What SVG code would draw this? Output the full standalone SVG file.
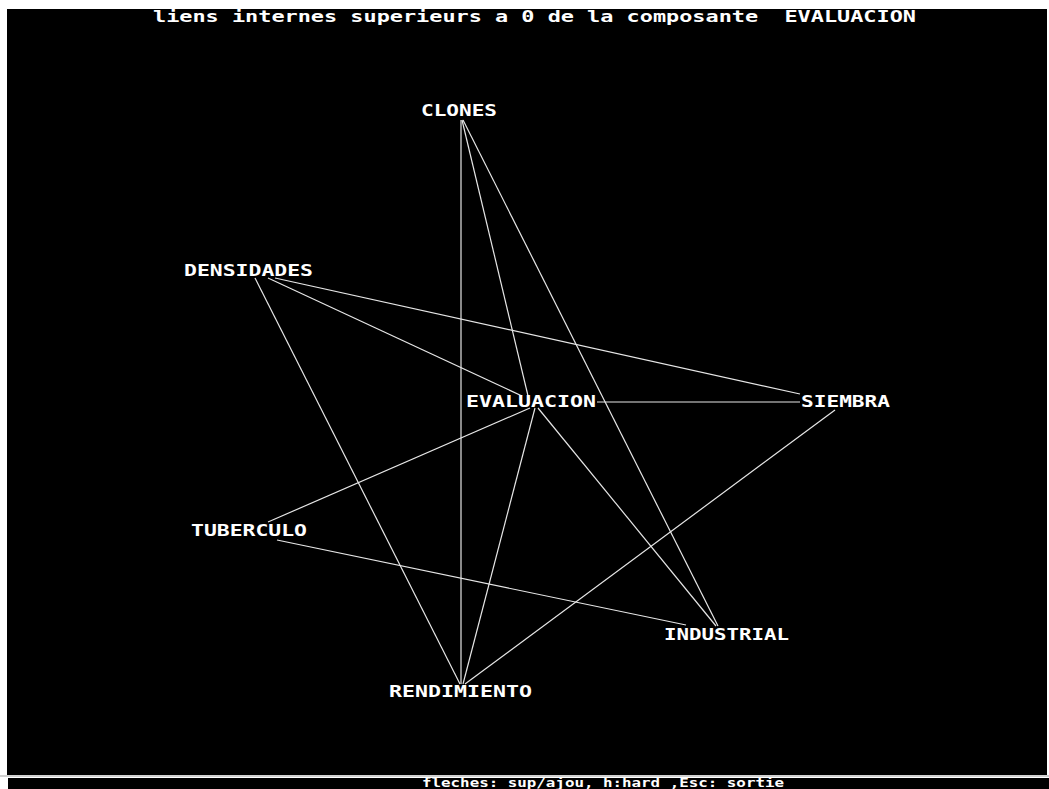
<svg xmlns="http://www.w3.org/2000/svg" width="1049" height="789" viewBox="0 0 1049 789">
<style>
.bg{fill:#000}
.lbl{font-family:"DejaVu Sans Mono","Liberation Mono",monospace;font-weight:bold;font-size:15px;fill:#fff}
.ttl{font-family:"DejaVu Sans Mono","Liberation Mono",monospace;font-weight:bold;font-size:15px;fill:#fff}
.ftr{font-family:"DejaVu Sans Mono","Liberation Mono",monospace;font-weight:bold;font-size:12px;fill:#fff}
#links line{stroke:#e6e6e6;stroke-width:1.2}
</style>
<rect width="1049" height="789" fill="#fff"/>
<rect class="bg" x="7" y="9" width="1040" height="766"/>
<rect x="0" y="775" width="1049" height="2" fill="#d0d0d0"/>
<rect class="bg" x="8" y="778" width="1041" height="11"/>
<text class="ttl" x="153" y="22" textLength="763" lengthAdjust="spacingAndGlyphs" xml:space="preserve">liens internes superieurs a 0 de la composante  EVALUACION</text>
<text class="ftr" x="422" y="787" textLength="362" lengthAdjust="spacingAndGlyphs">fleches: sup/ajou, h:hard ,Esc: sortie</text>
<g id="links">
<line x1="461" y1="120" x2="461" y2="684"/>
<line x1="462" y1="120" x2="529" y2="400"/>
<line x1="463" y1="120" x2="718" y2="626"/>
<line x1="255" y1="278" x2="460" y2="684"/>
<line x1="268" y1="278" x2="522" y2="396"/>
<line x1="275" y1="278" x2="800" y2="394"/>
<line x1="597" y1="402" x2="800" y2="402"/>
<line x1="530" y1="408" x2="268" y2="522"/>
<line x1="535" y1="408" x2="463" y2="684"/>
<line x1="538" y1="408" x2="716" y2="626"/>
<line x1="835" y1="410" x2="465" y2="684"/>
<line x1="277" y1="540" x2="686" y2="625"/>
</g>
<g id="CLONES"><text class="lbl" x="421" y="116" textLength="76" lengthAdjust="spacingAndGlyphs">CLONES</text></g>
<g id="DENSIDADES"><text class="lbl" x="184" y="276" textLength="129" lengthAdjust="spacingAndGlyphs">DENSIDADES</text></g>
<g id="EVALUACION"><text class="lbl" x="466" y="407" textLength="130" lengthAdjust="spacingAndGlyphs">EVALUACION</text></g>
<g id="SIEMBRA"><text class="lbl" x="801" y="407" textLength="89" lengthAdjust="spacingAndGlyphs">SIEMBRA</text></g>
<g id="TUBERCULO"><text class="lbl" x="191" y="536" textLength="116" lengthAdjust="spacingAndGlyphs">TUBERCULO</text></g>
<g id="INDUSTRIAL"><text class="lbl" x="664" y="640" textLength="125" lengthAdjust="spacingAndGlyphs">INDUSTRIAL</text></g>
<g id="RENDIMIENTO"><text class="lbl" x="389" y="697" textLength="143" lengthAdjust="spacingAndGlyphs">RENDIMIENTO</text></g>
</svg>
